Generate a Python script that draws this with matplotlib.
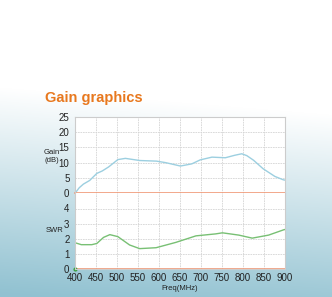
import numpy as np
import matplotlib
matplotlib.use("Agg")
import matplotlib.pyplot as plt

# ---------------------------------------------------------
# data

freq_gain = [400, 410, 420, 435, 452, 465, 480, 502, 520, 554, 594, 616, 651, 678,
             698, 726, 758, 780, 797, 809, 825, 848, 876, 896, 900]
gain = [0.0, 1.8, 3.0, 4.2, 6.5, 7.3, 8.6, 11.0, 11.4, 10.7, 10.5, 10.0, 8.9, 9.6,
        10.9, 11.8, 11.6, 12.4, 12.9, 12.3, 10.8, 8.0, 5.5, 4.4, 4.3]

freq_swr = [400, 415, 440, 452, 468, 483, 502, 530, 554, 593, 640, 688, 735, 751,
            790, 822, 861, 897, 900]
swr = [1.75, 1.62, 1.62, 1.7, 2.1, 2.28, 2.15, 1.6, 1.36, 1.42, 1.77, 2.2, 2.33, 2.4,
       2.25, 2.05, 2.25, 2.6, 2.62]

x_ticks = [400, 450, 500, 550, 600, 650, 700, 750, 800, 850, 900]
gain_ticks = [0, 5, 10, 15, 20, 25]
swr_ticks = [0, 1, 2, 3, 4]

# ---------------------------------------------------------

plt.rcParams['font.family'] = ['Liberation Sans', 'DejaVu Sans']

W, H = 332, 297
fig = plt.figure(figsize=(W / 100, H / 100), dpi=100)

# background gradient, white top to pale blue bottom
bg = fig.add_axes([0, 0, 1, 1], zorder=-10)
yy, xx = np.mgrid[0:H, 0:W]
t = np.clip((yy - 92) / 205 + (60 - xx) / 2500, 0, 1)
top = np.array([1.0, 1.0, 1.0])
bot = np.array([0.57, 0.76, 0.82])
img = top[None, None, :] * (1 - t[..., None]) + bot[None, None, :] * t[..., None]
bg.imshow(img, aspect="auto", extent=[0, W, H, 0])
bg.set_axis_off()

def px_box(x0, y0, x1, y1):
  return [x0 / W, 1 - y1 / H, (x1 - x0) / W, (y1 - y0) / H]

ax_g = fig.add_axes(px_box(75, 116.7, 285, 193.3))
ax_s = fig.add_axes(px_box(75, 193.3, 285, 269.3))

grid_kw = dict(color="#d4d4d4", linewidth=0.6, linestyle=(0, (2, 1)))
for ax in (ax_g, ax_s):
  ax.set_facecolor("white")
  ax.set_xlim(400, 900)
  ax.set_xticks(x_ticks)
  ax.grid(True, **grid_kw)
  ax.set_axisbelow(True)
  ax.tick_params(length=0, labelsize=7, pad=4, colors="#222222")
  for s in ax.spines.values():
    s.set_color("#cccccc")
    s.set_linewidth(0.8)

# gain panel
ax_g.plot(freq_gain, gain, color="#9ccfe0", linewidth=1.0)
ax_g.axhline(0, color="#f09a78", linewidth=1.2, clip_on=False)
ax_g.set_ylim(0, 25)
ax_g.set_yticks(gain_ticks)
ax_g.tick_params(labelbottom=False)
ax_g.spines["bottom"].set_visible(False)

# swr panel
ax_s.plot(freq_swr, swr, color="#78c074", linewidth=1.0)
ax_s.axhline(0, color="#f09a78", linewidth=1.2, clip_on=False)
ax_s.plot([400], [0], "o", color="#3aa040", markersize=2, clip_on=False)
ax_s.set_ylim(0, 5)
ax_s.set_yticks(swr_ticks)
ax_s.spines["top"].set_visible(False)
ax_s.tick_params(axis="x", pad=3)

# labels
fig.text(52 / W, 1 - 152 / H, "Gain", fontsize=5.5, ha="center", va="center", color="#222222")
fig.text(52 / W, 1 - 161 / H, "(dB)", fontsize=5.5, ha="center", va="center", color="#222222")
fig.text(55 / W, 1 - 230 / H, "SWR", fontsize=5.5, ha="center", va="center", color="#222222")
fig.text(180 / W, 1 - 288 / H, "Freq(MHz)", fontsize=5.5, ha="center", va="center", color="#222222")

fig.text(45 / W, 1 - 98 / H, "Gain graphics", fontsize=10.5, fontweight="bold",
         color="#e8781e", ha="left", va="center")

fig.savefig("out.png", dpi=100)
